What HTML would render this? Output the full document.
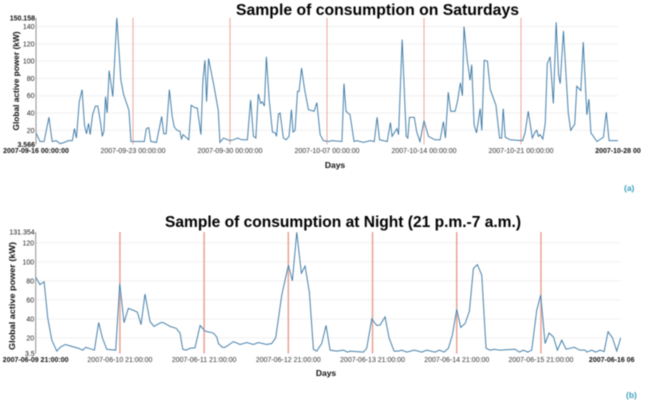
<!DOCTYPE html>
<html lang="en">
<head>
<meta charset="utf-8">
<title>Sample of consumption</title>
<style>
html,body{margin:0;padding:0;background:#fff;width:650px;height:412px;overflow:hidden}
svg{display:block;filter:blur(0.45px)}
text{font-family:"Liberation Sans",sans-serif}
</style>
</head>
<body>
<svg id="figure" xmlns="http://www.w3.org/2000/svg" width="650" height="412" viewBox="0 0 650 412">
  <rect x="0" y="0" width="650" height="412" fill="#ffffff"/>
  <text x="236" y="15" font-size="16" font-weight="700" fill="#000" textLength="283" lengthAdjust="spacingAndGlyphs">Sample of consumption on Saturdays</text>
  <text transform="translate(19,81) rotate(-90)" text-anchor="middle" font-size="8.5" font-weight="700" fill="#111" textLength="99" lengthAdjust="spacingAndGlyphs">Global active power (kW)</text>
  <text x="335" y="168" text-anchor="middle" font-size="8.5" font-weight="700" fill="#111">Days</text>
  <text x="624" y="191" font-size="8.5" font-weight="700" fill="#3d9fc0">(a)</text>
  <text x="165" y="227" font-size="16" font-weight="700" fill="#000" textLength="356" lengthAdjust="spacingAndGlyphs">Sample of consumption at Night (21 p.m.-7 a.m.)</text>
  <text transform="translate(15,296) rotate(-90)" text-anchor="middle" font-size="8.5" font-weight="700" fill="#111" textLength="108" lengthAdjust="spacingAndGlyphs">Global active power (kW)</text>
  <text x="326" y="376" text-anchor="middle" font-size="8.5" font-weight="700" fill="#111">Days</text>
  <text x="626" y="398" font-size="8.5" font-weight="700" fill="#3d9fc0">(b)</text>
  <g id="chart-a"></g>
  <g id="chart-b"></g>
</svg>
<script>
// Saturday chart data: hours along the sampled axis and power in kW
const saturdayHours = [
  0,1,2,3.2,4,5,6,7,8,9,9.5,10,10.7,11.4,12,12.5,13,13.4,14,14.7,15.3,16,16.4,16.8,17.2,17.6,18.1,19,20,21,21.7,23,23.5,
  24,26.8,27.3,27.9,28.4,29.8,31.1,31.6,32.2,33,33.7,34.2,34.9,35.6,36,36.4,37.8,38.4,39.4,39.9,40.8,41.3,41.8,42.2,42.7,44,45.1,45.5,46.4,
  48,48.8,49.9,50.9,52.3,53.1,53.8,54.4,55,55.6,56,56.5,57,57.7,58.5,59.2,59.5,60,60.4,61.2,61.9,62.6,63.2,63.6,64.1,64.7,65.1,65.7,66.4,67.4,68.8,69.5,70.3,71.1,
  72.4,73.2,75.7,76.2,76.7,77.7,78.7,79.4,81,82.7,83.7,84.4,85,86.9,87.7,88.1,89.3,89.7,90.6,91.6,92,92.4,93.6,94.2,95,
  96,97.1,98.7,100,100.8,101.3,102,102.6,103.7,104.3,105,105.5,105.9,106.7,107.4,107.8,108.4,109,109.9,110.3,110.9,111.7,112.4,113.8,114.7,115.2,115.6,116.1,117.3,
  120.4,121,121.8,122.8,123.5,123.9,124.3,124.7,125.4,126,126.5,127.2,128,128.7,129.3,129.7,130.5,131.7,132.3,133.3,133.8,134.8,135.4,136.3,136.8,137.3,138.8,140.4,141.1,141.8,144
];
const saturdayPower = [
  17,7,7,35,7,8,4.5,6,8,8,22,11,53,67,26,16,28,15,38,48,48,28,13,19,59,40,89,59,150,78,61,43,7,
  7,7,22,23,7,6,36,16,16,67,36,24,20,19,10,15,9,49,46,46,15,78,101,53,103,72,43,6,11,
  8,9,11,9,9,55,13,11,62,51,53,48,105,55,18,17,13,39,40,11,9,13,44,18,20,65,65,92,69,44,42,52,15,8,
  7,8,7,74,42,38,7,8,6,8,7,35,9,7,29,13,22,15,125,13,11,35,35,18,7,
  31,13,9,9,30,11,64,42,42,54,75,60,140,101,78,96,26,17,45,20,101,100,67,49,11,11,45,12,9,
  8,17,42,11,18,20,13,15,10,28,97,105,51,145,84,74,135,40,20,27,71,66,122,38,56,17,7,12,41,8,8
];
const saturdayYTicks = [20,40,60,80,100,120,140];
const saturdayYBounds = [3.566,150.158];
const saturdayYBoundLabels = ["3.566","150.158"];
const saturdayMarkerHours = [24,48,72,96,120];
const saturdayXTickHours = [0,24,48,72,96,120,144];
const saturdayXTickLabels = ["2007-09-16 00:00:00","2007-09-23 00:00:00","2007-09-30 00:00:00","2007-10-07 00:00:00","2007-10-14 00:00:00","2007-10-21 00:00:00","2007-10-28 00"];

// Night chart data: sampled hours and power in kW
const nightHours = [
  0,.5,1,1.43,1.9,2.5,2.9,3.5,4.28,5.07,5.58,5.94,6.97,7.48,7.92,8.43,9.5,9.98,10.49,11,11.6,12.07,12.51,12.98,13.58,14.05,14.85,15.16,15.95,16.67,17.14,17.46,17.85,18.33,18.92,19.52,20.11,21.1,21.5,
  21.7,22.17,22.49,23.48,24.27,25.06,25.85,26.45,27.44,28.03,28.5,29.22,30.01,30.48,31,31.55,31.99,32.5,32.98,33.37,33.97,34.48,34.96,35.75,36.54,37.02,37.33,38.92,39.31,39.91,40.5,40.9,41.49,41.96,42.56,43.07,43.47,44.06,44.97,45.84,46.44,
  47.42,47.94,48.49,49.01,49.48,50,50.47,50.99,51.5,51.98,52.45,52.97,53.48,53.96,54.47,55.06,56.92,57.44,57.91,58.43,58.9,59.5,59.97,60.49,60.96,61.48,61.95,62.47,62.98,63.93,64.64,65.24,65.44,66.03,66.5,67.02,67.5,67.97,68.49,69,69.47
];
const nightPower = [
  84,76,79,41,18,6,10,13,11,9,7,10,7,36,20,8,7,77,36,51,49,47,34,66,37,32,36,36,32,30,25,8,7,9,9.5,33,27,25,21,
  14,10,10,16,13,15,13,15,13,14,20,65,96.5,80,131,88,95.5,68,8,6,14,33,7,6,7,5,6,5,9,40,33,33.5,42,20,6,6,7,5,7,5,7,
  5,7,5,9,23,50,31,35,48,93,97,86,9,7,8,7,8,5,7,5,7,49,65,14,25,21,7,17.5,8,10,7,7,5,7,5,7,5.5,26.5,20,6,20
];
const nightYTicks = [20,40,60,80,100,120];
const nightYBounds = [3.5,131.354];
const nightYBoundLabels = ["3.5","131.354"];
const nightMarkerHours = [10,20,30,40,50,60];
const nightXTickHours = [0,10,20,30,40,50,60,69.47];
const nightXTickLabels = ["2007-06-09 21:00:00","2007-06-10 21:00:00","2007-06-11 21:00:00","2007-06-12 21:00:00","2007-06-13 21:00:00","2007-06-14 21:00:00","2007-06-15 21:00:00","2007-06-16 06"];

const NS = "http://www.w3.org/2000/svg";

function makeScale(d0, d1, r0, r1) {
  return function (v) { return r0 + (v - d0) * (r1 - r0) / (d1 - d0); };
}

function drawChart(groupId, cfg) {
  const group = document.getElementById(groupId);
  const x = makeScale(cfg.xDomain[0], cfg.xDomain[1], cfg.xRange[0], cfg.xRange[1]);
  const y = makeScale(cfg.bounds[0], cfg.bounds[1], cfg.yRange[0], cfg.yRange[1]);

  cfg.yTicks.forEach(function (t) {
    const grid = document.createElementNS(NS, "line");
    
    
    grid.setAttribute("x1", cfg.xRange[0]);
    grid.setAttribute("x2", cfg.xRange[1]);
    grid.setAttribute("y1", y(t));
    grid.setAttribute("y2", y(t));
    grid.setAttribute("stroke", "#f0f0f0");
    grid.setAttribute("stroke-width", "1");
    group.appendChild(grid);

    const label = document.createElementNS(NS, "text");
    
    
    label.setAttribute("x", cfg.xRange[0] - 1.5);
    label.setAttribute("y", y(t) + 2.5);
    label.setAttribute("text-anchor", "end");
    label.setAttribute("font-size", "7");
    label.setAttribute("fill", "#222");
    label.textContent = String(t);
    group.appendChild(label);
  });

  cfg.bounds.forEach(function (b, i) {
    const label = document.createElementNS(NS, "text");
    
    
    label.setAttribute("x", cfg.xRange[0] - 1);
    label.setAttribute("y", y(b) + 2.5);
    label.setAttribute("text-anchor", "end");
    label.setAttribute("font-size", "7");
    label.setAttribute("font-weight", cfg.boundWeight);
    label.setAttribute("fill", "#111");
    label.textContent = cfg.boundLabels[i];
    group.appendChild(label);
  });

  const axis = document.createElementNS(NS, "line");
  
  
  axis.setAttribute("x1", cfg.xRange[0]);
  axis.setAttribute("x2", cfg.xRange[0]);
  axis.setAttribute("y1", cfg.yRange[1]);
  axis.setAttribute("y2", cfg.yRange[0]);
  axis.setAttribute("stroke", "#777777");
  axis.setAttribute("stroke-width", "0.8");
  group.appendChild(axis);

  cfg.markers.forEach(function (m) {
    const marker = document.createElementNS(NS, "line");
    
    
    marker.setAttribute("x1", x(m));
    marker.setAttribute("x2", x(m));
    marker.setAttribute("y1", cfg.yRange[1]);
    marker.setAttribute("y2", cfg.yRange[0]);
    marker.setAttribute("stroke", cfg.markerColor);
    marker.setAttribute("stroke-width", cfg.markerWidth);
    group.appendChild(marker);
  });

  const points = cfg.hours.map(function (h, i) {
    return x(h).toFixed(2) + "," + y(cfg.values[i]).toFixed(2);
  }).join(" ");

  const halo = document.createElementNS(NS, "polyline");
  
  
  halo.setAttribute("points", points);
  halo.setAttribute("fill", "none");
  halo.setAttribute("stroke", "#c2deee");
  halo.setAttribute("stroke-width", "1.2");
  group.appendChild(halo);

  const series = document.createElementNS(NS, "polyline");
  
  
  series.setAttribute("points", points);
  series.setAttribute("fill", "none");
  series.setAttribute("stroke", "#356f9c");
  series.setAttribute("stroke-width", "0.75");
  group.appendChild(series);

  cfg.xTicks.forEach(function (t, i) {
    const edge = i === 0 || i === cfg.xTicks.length - 1;
    const label = document.createElementNS(NS, "text");
    
    
    label.setAttribute("x", x(t) + (i === cfg.xTicks.length - 1 ? cfg.lastLabelShift : 0));
    label.setAttribute("y", cfg.xLabelY);
    label.setAttribute("text-anchor", "middle");
    label.setAttribute("font-size", "7");
    label.setAttribute("font-weight", edge ? "700" : "400");
    label.setAttribute("fill", edge ? "#111" : "#333");
    label.textContent = cfg.xLabels[i];
    group.appendChild(label);
  });
}

drawChart("chart-a", {
  hours: saturdayHours, values: saturdayPower,
  xDomain: [0, 144], xRange: [36, 618],
  bounds: saturdayYBounds, boundLabels: saturdayYBoundLabels, boundWeight: "700",
  yRange: [144.5, 17.8], yTicks: saturdayYTicks,
  markers: saturdayMarkerHours, markerColor: "#eea898", markerWidth: "1",
  xTicks: saturdayXTickHours, xLabels: saturdayXTickLabels, xLabelY: 153, lastLabelShift: 0
});

drawChart("chart-b", {
  hours: nightHours, values: nightPower,
  xDomain: [0, 69.47], xRange: [35.7, 620.7],
  bounds: nightYBounds, boundLabels: nightYBoundLabels, boundWeight: "400",
  yRange: [353.5, 232], yTicks: nightYTicks,
  markers: nightMarkerHours, markerColor: "#e79c8c", markerWidth: "1.4",
  xTicks: nightXTickHours, xLabels: nightXTickLabels, xLabelY: 362, lastLabelShift: -9
});
</script>
</body>
</html>
